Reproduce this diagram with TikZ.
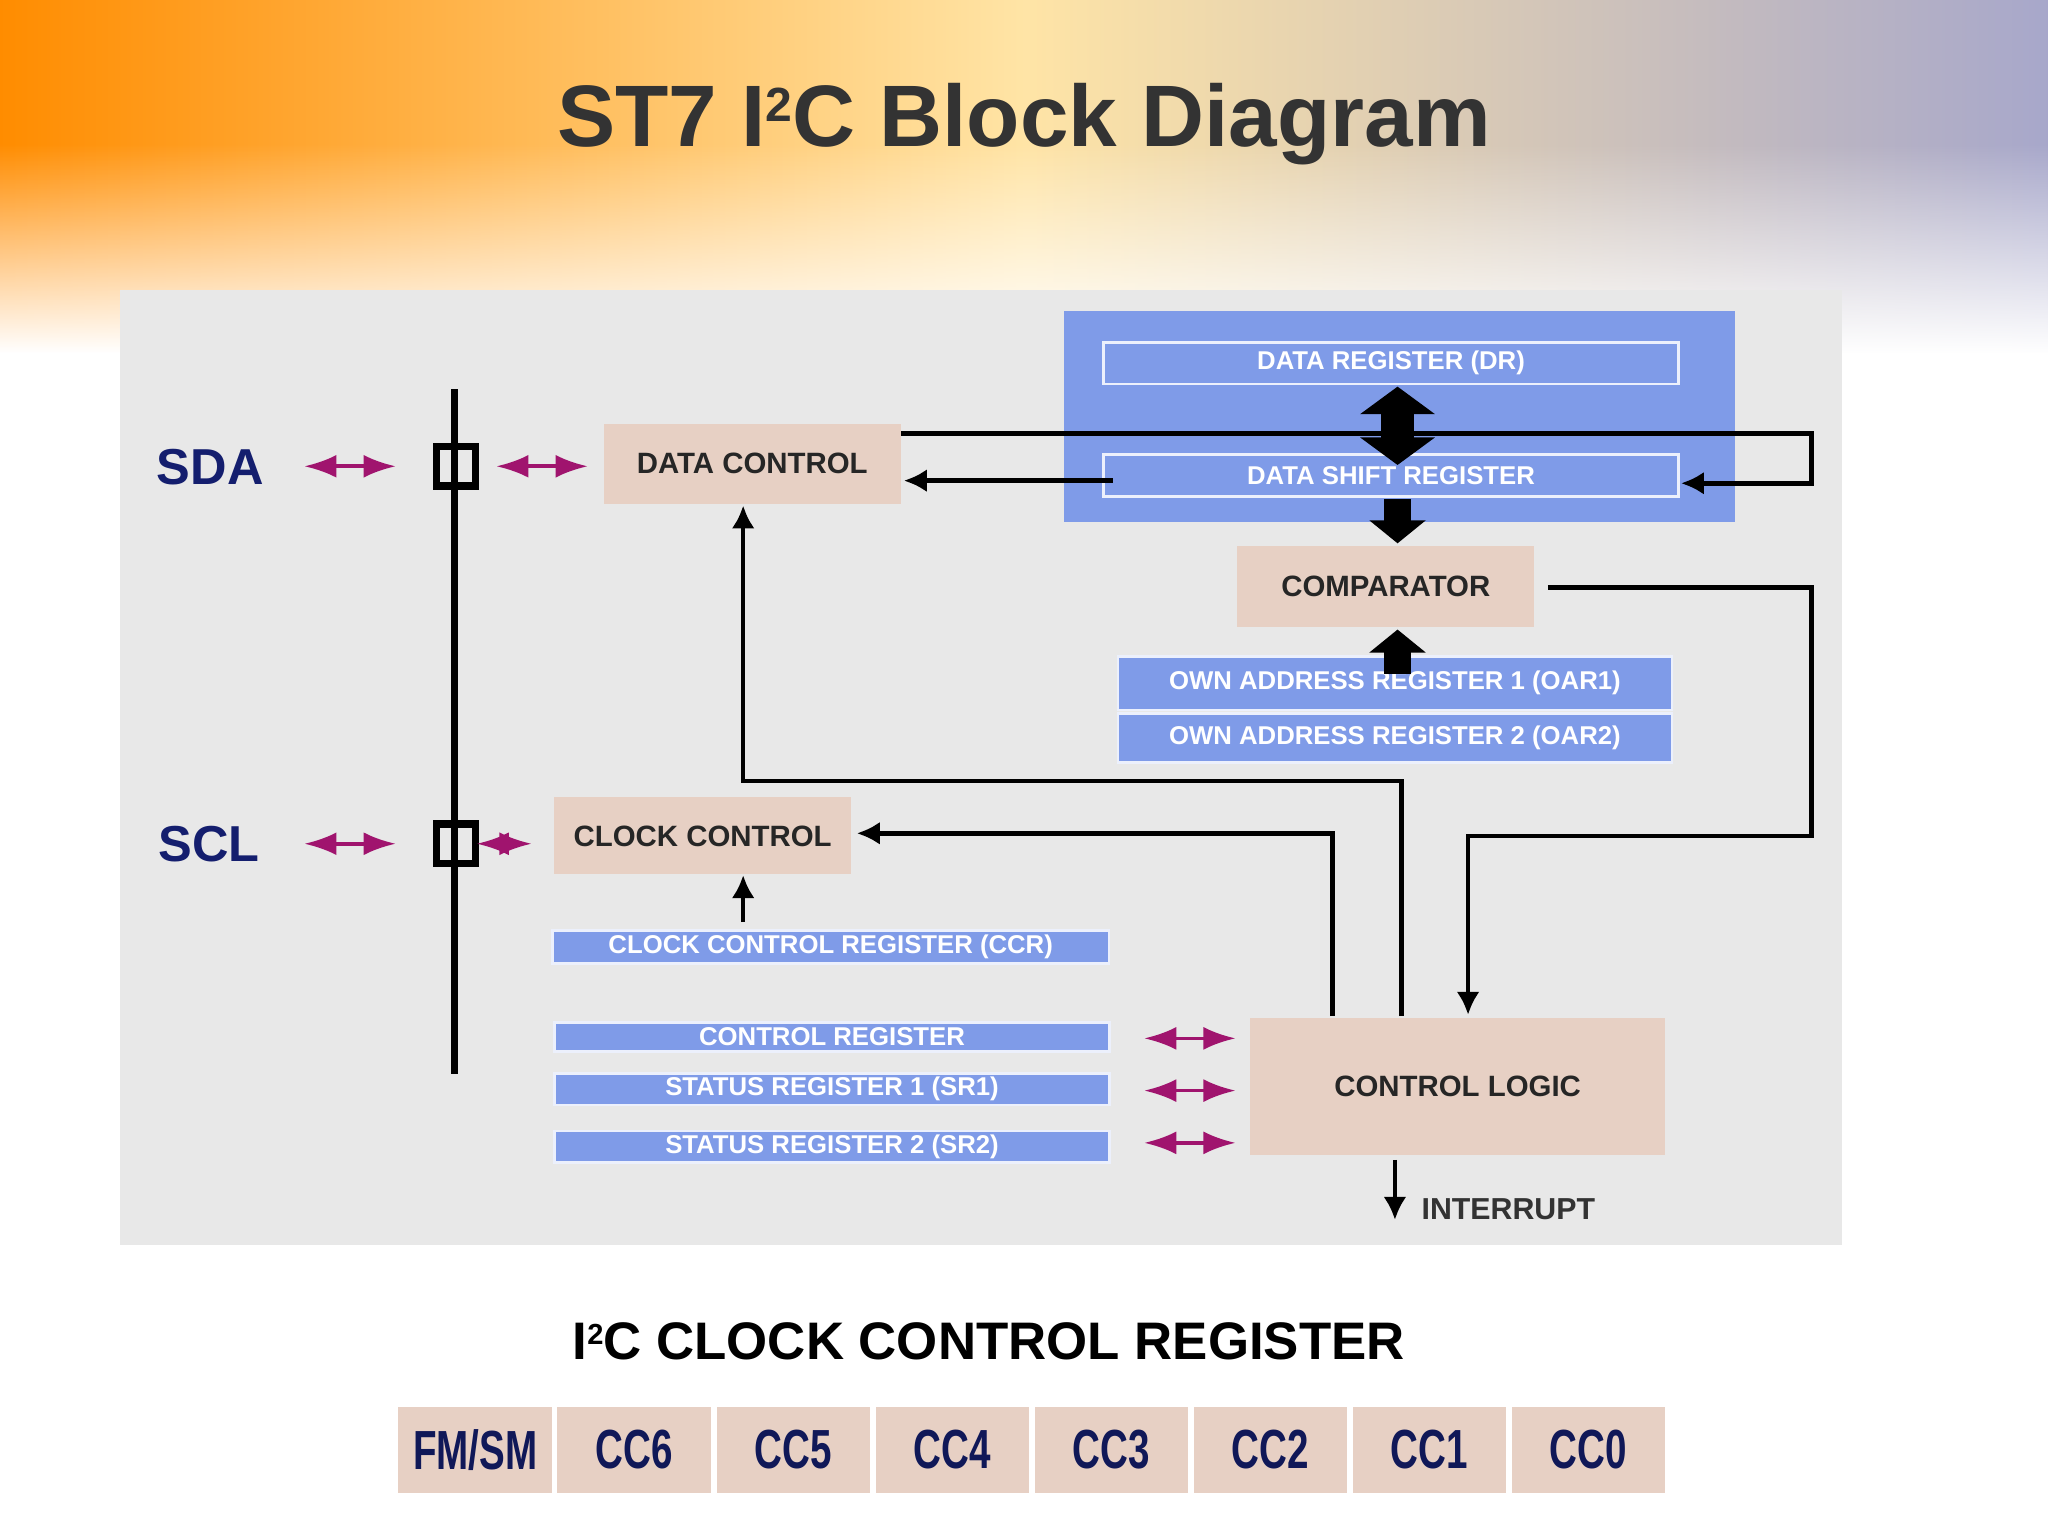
\documentclass[tikz,border=0pt]{standalone}
\usepackage{fontspec}
\setmainfont{Liberation Sans}
\usetikzlibrary{arrows.meta,fadings}
\definecolor{tan}{RGB}{231,208,196}
\definecolor{blu}{RGB}{127,155,232}
\definecolor{mag}{RGB}{160,20,110}
\definecolor{navy}{RGB}{20,30,110}
\newcommand{\supr}[1]{\raisebox{0.55ex}{\scalebox{0.55}{#1}}}
\begin{document}
\begin{tikzpicture}[x=0.01cm,y=-0.01cm,
  box/.style={fill=tan,draw=none,inner sep=0,font=\fontsize{6.4}{8}\selectfont\bfseries,text=black!85},
  bb/.style={fill=blu,draw=white!85!blu,line width=0.6pt,inner sep=0,font=\fontsize{5.6}{7}\selectfont\bfseries,text=white},
  ln/.style={line width=1pt,black},
  ar/.style={ln,-{Latex[length=5pt,width=5pt]}},
  mg/.style={mag,line width=0.8pt,{Latex[length=7pt,width=5pt]}-{Latex[length=7pt,width=5pt]}},
  thk/.style={line width=6pt,-{Triangle[length=5pt,width=12pt]}}]
\useasboundingbox (0,0) rectangle (1568,1176);
\fill[white] (0,0) rectangle (1568,1176);
\shade[left color=orange!90!yellow,right color=blue!25!gray!55,middle color=yellow!40!orange!35] (0,0) rectangle (1568,270);
\fill[white,path fading=north] (0,110) rectangle (1568,270);
\node[font=\fontsize{19}{24}\selectfont\bfseries,text=black!80] (title) at (784,95) {ST7 I\supr{2}C Block Diagram};
\fill[black!9] (92,222) rectangle (1410,953);
% blue group
\fill[blu] (815,238) rectangle (1328,400);
\node[bb,minimum width=4.4cm,minimum height=0.32cm] (dr) at (1065,278) {DATA REGISTER (DR)};
\node[bb,minimum width=4.4cm,minimum height=0.32cm] (dsr) at (1065,364) {DATA SHIFT REGISTER};
\node[box,minimum width=2.27cm,minimum height=0.61cm] (dc) at (576,355) {DATA CONTROL};
\node[box,minimum width=2.27cm,minimum height=0.62cm] (cmp) at (1061,449) {COMPARATOR};
\node[bb,minimum width=4.24cm,minimum height=0.41cm] (oar1) at (1068,523) {OWN ADDRESS REGISTER 1 (OAR1)};
\node[bb,minimum width=4.24cm,minimum height=0.37cm] (oar2) at (1068,565) {OWN ADDRESS REGISTER 2 (OAR2)};
\node[box,minimum width=2.27cm,minimum height=0.59cm] (cc) at (538,640) {CLOCK CONTROL};
\node[bb,minimum width=4.26cm,minimum height=0.25cm] (ccr) at (636,725) {CLOCK CONTROL REGISTER (CCR)};
\node[bb,minimum width=4.25cm,minimum height=0.22cm] (cr) at (637,794) {CONTROL REGISTER};
\node[bb,minimum width=4.25cm,minimum height=0.24cm] (sr1) at (637,834) {STATUS REGISTER 1 (SR1)};
\node[bb,minimum width=4.25cm,minimum height=0.24cm] (sr2) at (637,878) {STATUS REGISTER 2 (SR2)};
\node[box,minimum width=3.17cm,minimum height=1.05cm] (cl) at (1116,832) {CONTROL LOGIC};
% bus
\draw[ln,line width=1.5pt] (348,298) -- (348,822);
\node[draw,line width=1.6pt,minimum size=0.3cm,inner sep=0] (q1) at (349,357) {};
\node[draw,line width=1.6pt,minimum size=0.3cm,inner sep=0] (q2) at (349,646) {};
\node[font=\fontsize{11}{13}\selectfont\bfseries,text=navy] (sda) at (161,358) {SDA};
\node[font=\fontsize{11}{13}\selectfont\bfseries,text=navy] (scl) at (160,646) {SCL};
\coordinate (s1) at (233,357); \coordinate (s2) at (303,357);
\coordinate (s3) at (380,357); \coordinate (s4) at (450,357);
\coordinate (c1) at (233,646); \coordinate (c2) at (303,646);
\coordinate (c3) at (365,646); \coordinate (c4) at (407,646);
\draw[mg] (s1)--(s2); \draw[mg] (s3)--(s4); \draw[mg] (c1)--(c2); \draw[mg] (c3)--(c4);
\foreach \yy in {795,835,875}{\draw[mg] (876,\yy)--(946,\yy);}
% connections
\draw[ar] (690,332) -- (1387,332) -- (1387,370) -- (1287,370);
\draw[ar] (852,368) -- (692,368);
\draw[line width=7pt,{Triangle[length=6pt,width=16pt]}-{Triangle[length=6pt,width=16pt]}] (1070,296) -- (1070,356);
\draw[thk] (1070,382) -- (1070,416);
\draw[thk] (1070,516) -- (1070,482);
\draw[ar] (1185,450) -- (1387,450) -- (1387,640) -- (1124,640) -- (1124,777);
\draw[ar] (1073,778) -- (1073,598) -- (569,598) -- (569,387);
\draw[ar] (1020,778) -- (1020,638) -- (656,638);
\draw[ar] (569,706) -- (569,670);
\draw[ar] (1068,888) -- (1068,934);
\node[anchor=west,font=\fontsize{6.6}{8}\selectfont\bfseries,text=black!80] (intr) at (1076,926) {INTERRUPT};
% bottom
\node[font=\fontsize{11.5}{14}\selectfont\bfseries] (t2) at (757,1027) {I\supr{2}C CLOCK CONTROL REGISTER};
\foreach [count=\i from 0] \t in {FM/SM,CC6,CC5,CC4,CC3,CC2,CC1,CC0}{
  \node[fill=tan,draw=white,line width=1.2pt,minimum width=1.2175cm,minimum height=0.7cm,inner sep=0,text=navy!80!black,font=\fontsize{12}{14}\selectfont\bfseries] (b\i) at ({303+121.75*(\i+0.5)},1110) {\scalebox{0.7}[1]{\t}};
}
\end{tikzpicture}
\end{document}
